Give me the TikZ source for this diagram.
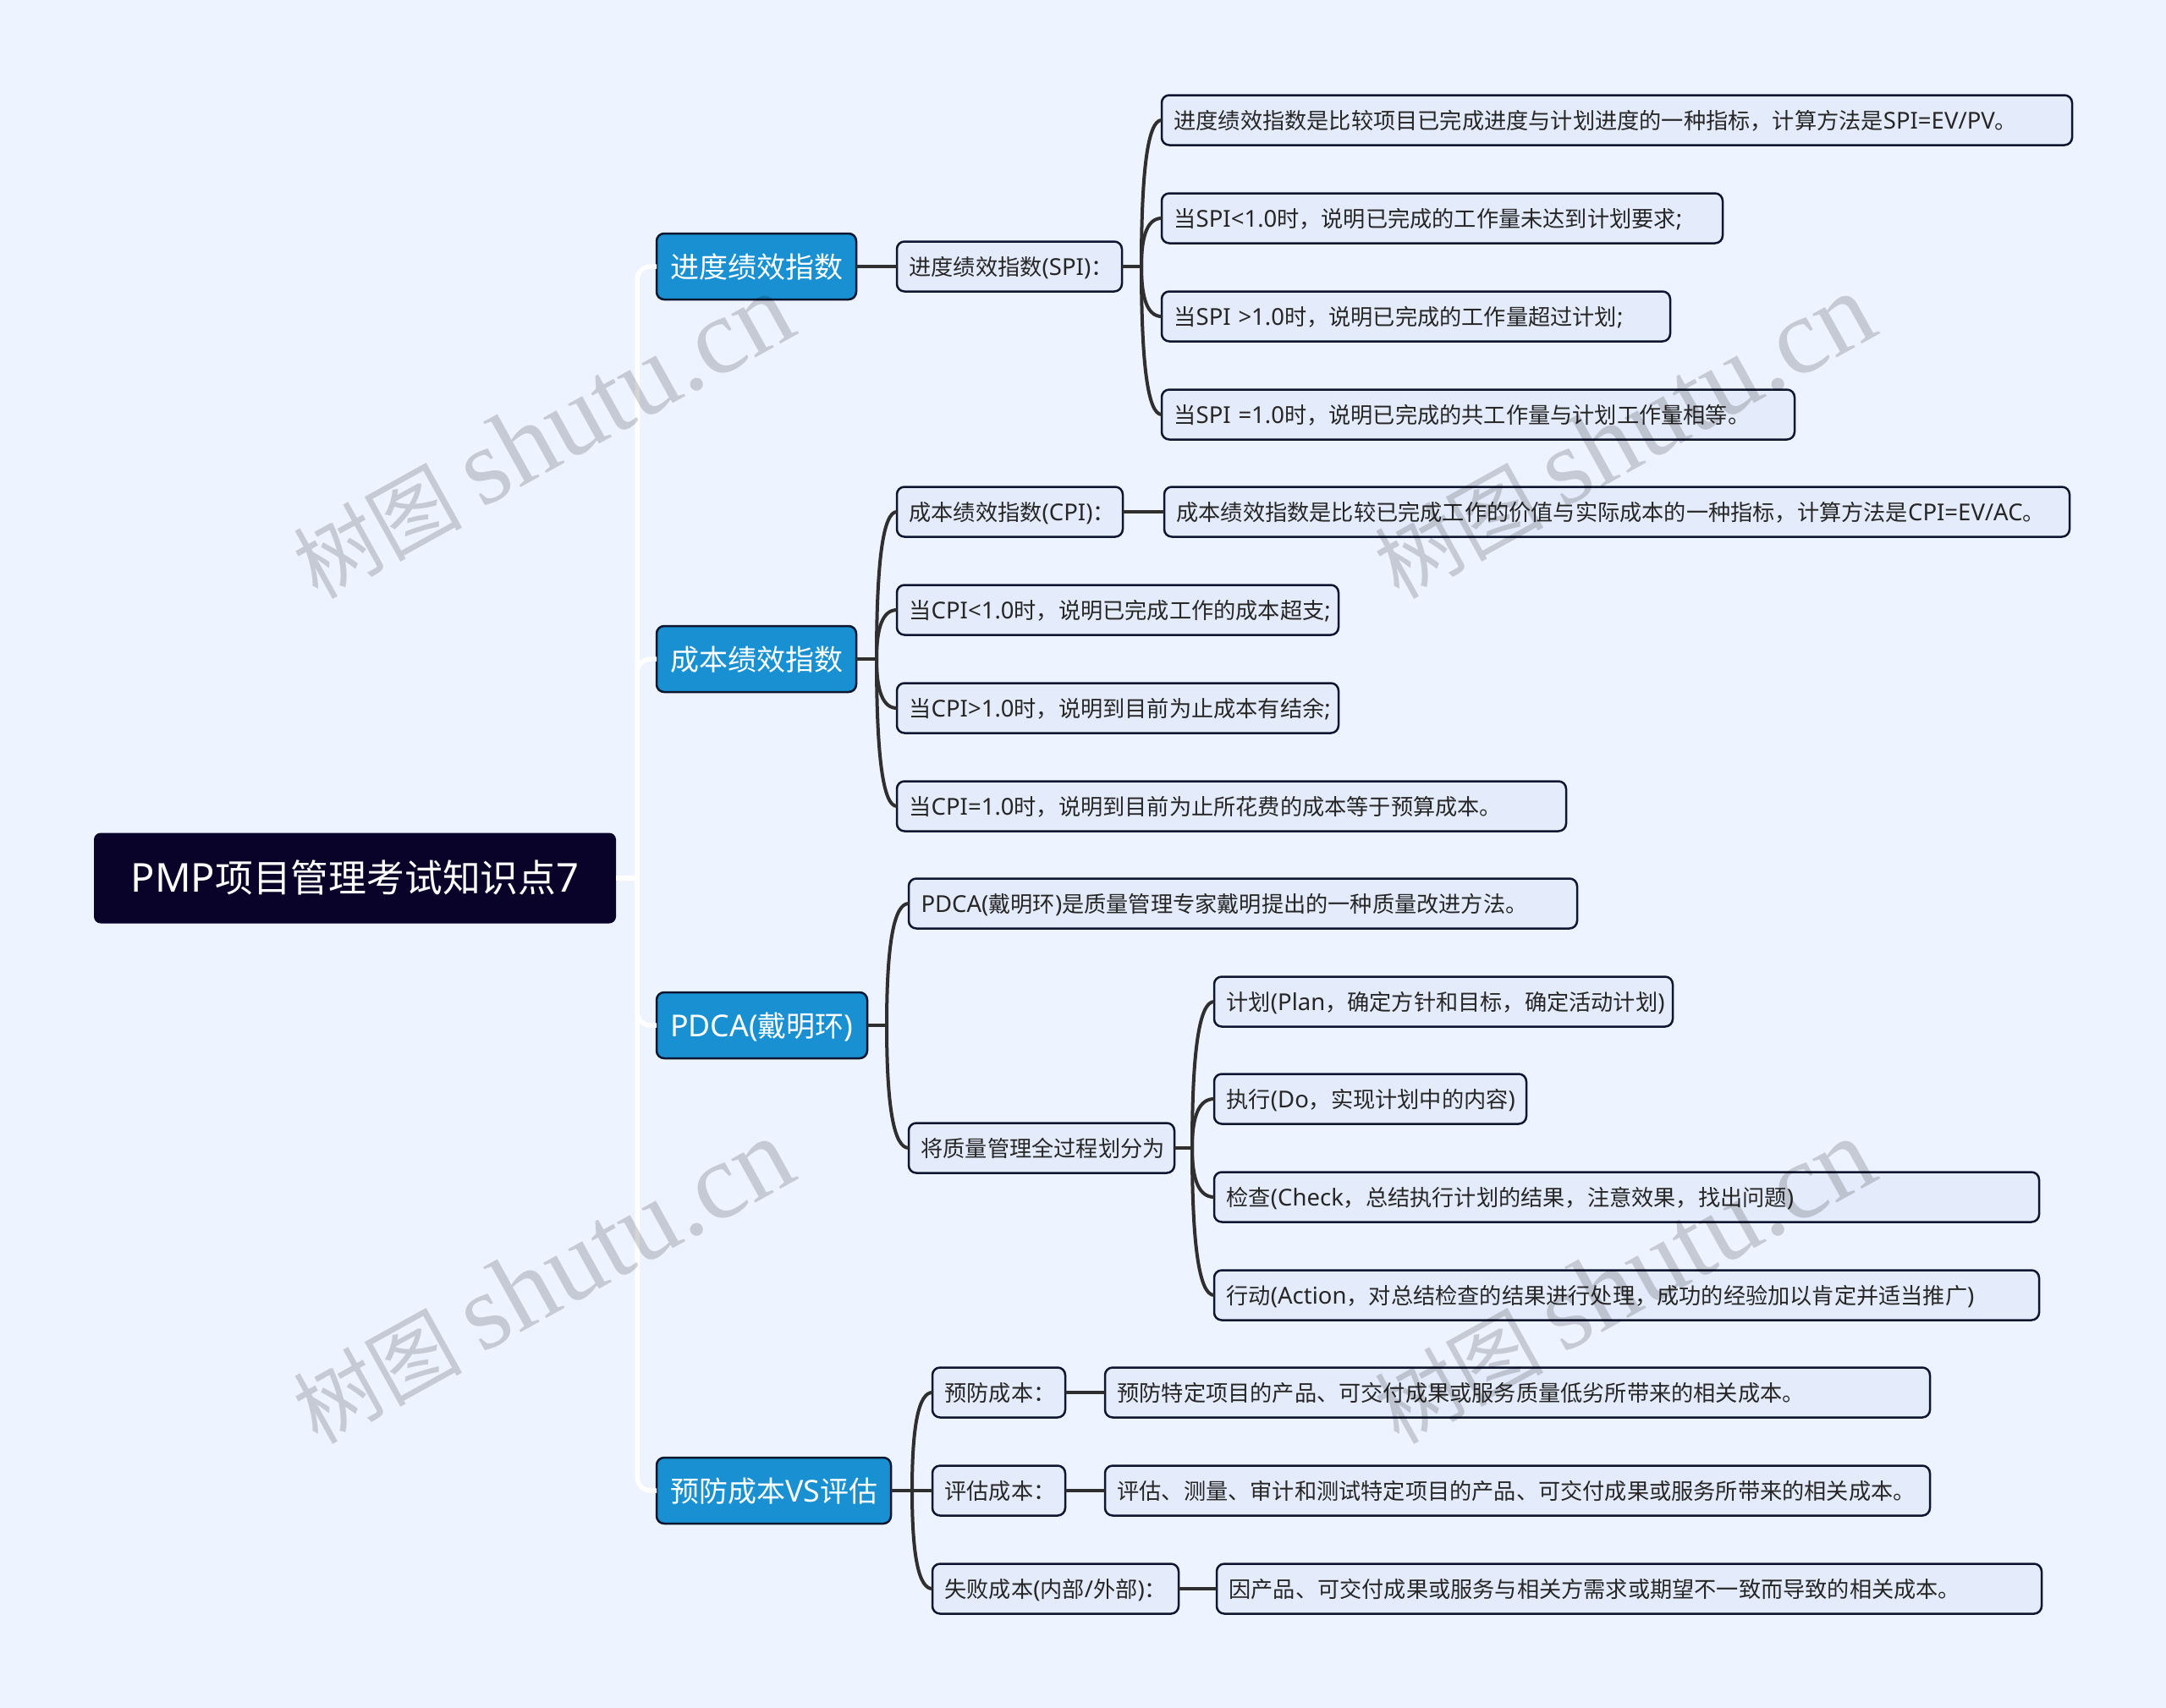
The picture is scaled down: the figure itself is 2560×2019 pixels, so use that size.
\documentclass[tikz,border=0pt]{standalone}
\usepackage{fontspec}
\setmainfont{Noto Sans CJK SC}
\newfontfamily\latfont[Scale=1.05]{Noto Sans}
\newfontfamily\markfont{Liberation Serif}
\newcommand{\lat}[1]{{\latfont #1}}
\newcommand{\marktext}{\fontsize{100}{130}\selectfont 树图\ {\fontsize{128}{130}\markfont shutu.cn}}
\usetikzlibrary{calc}
\definecolor{pagebg}{HTML}{EDF3FF}
\definecolor{rootfill}{HTML}{0A0329}
\definecolor{headfill}{HTML}{1890D2}
\definecolor{leaffill}{HTML}{E4ECFB}
\definecolor{edgedark}{HTML}{0E1630}
\definecolor{linkdark}{HTML}{2F2F2F}
\tikzset{
  rootbox/.style={fill=rootfill,text=white,rounded corners=8pt,outer sep=0pt,
    minimum width=617pt,minimum height=107pt,text height=42pt,text depth=9pt,
    font=\fontsize{44.8}{56}\selectfont},
  headbox/.style={anchor=west,draw=edgedark,fill=headfill,text=white,line width=2.5pt,
    rounded corners=9pt,outer sep=0pt,inner xsep=16pt,align=left,text width=#1,
    minimum height=78pt,text height=30.5pt,text depth=4.5pt,
    font=\fontsize{34}{40}\selectfont},
  leafbox/.style={anchor=west,draw=edgedark,fill=leaffill,text=black!85,line width=2.5pt,
    rounded corners=9pt,outer sep=0pt,inner xsep=13pt,align=left,text width=#1,
    minimum height=59pt,text height=24pt,text depth=4pt,
    execute at begin node=\hspace*{1.5pt},
    font=\fontsize{26.2}{30}\selectfont},
  trunk/.style={draw=white,line width=5.5pt},
  link/.style={draw=linkdark,line width=4pt},
  markbox/.style={rotate=29,text=black,text opacity=0.17}
}
\begin{document}
\begin{tikzpicture}[x=1pt,y=-1pt]

  \fill[pagebg] (0,0) rectangle (2560,2019);
  \useasboundingbox (0,0) rectangle (2560,2019);

  \node[rootbox] (root) at (419.5,1038) {\lat{PMP}项目管理考试知识点\lat{7}};

  %% main branches
  \node[headbox=204pt] (spihead) at (776,315) {进度绩效指数};
  \node[headbox=204pt] (cpihead) at (776,779) {成本绩效指数};
  \node[headbox=217pt] (pdcahead) at (776,1212) {\lat{PDCA(}戴明环\lat{)}};
  \node[headbox=245pt] (costhead) at (776,1762) {预防成本\lat{VS}评估};

  %% SPI
  \node[leafbox=240pt] (spitop) at (1060,315) {进度绩效指数\lat{(SPI)}：};
  \node[leafbox=1050pt] (spia) at (1373,142) {进度绩效指数是比较项目已完成进度与计划进度的一种指标，计算方法是\lat{SPI=EV/PV}。};
  \node[leafbox=637pt] (spib) at (1373,258) {当\lat{SPI<1.0}时，说明已完成的工作量未达到计划要求\lat{;}};
  \node[leafbox=575pt] (spic) at (1373,374) {当\lat{SPI >1.0}时，说明已完成的工作量超过计划\lat{;}};
  \node[leafbox=722pt] (spid) at (1373,490) {当\lat{SPI =1.0}时，说明已完成的共工作量与计划工作量相等。};

  %% CPI
  \node[leafbox=241pt] (cpitop) at (1060,605) {成本绩效指数\lat{(CPI)}：};
  \node[leafbox=1044pt] (cpiz) at (1376,605) {成本绩效指数是比较已完成工作的价值与实际成本的一种指标，计算方法是\lat{CPI=EV/AC}。};
  \node[leafbox=496pt] (cpib) at (1060,721) {当\lat{CPI<1.0}时，说明已完成工作的成本超支\lat{;}};
  \node[leafbox=496pt] (cpic) at (1060,837) {当\lat{CPI>1.0}时，说明到目前为止成本有结余\lat{;}};
  \node[leafbox=765pt] (cpid) at (1060,953) {当\lat{CPI=1.0}时，说明到目前为止所花费的成本等于预算成本。};

  %% PDCA
  \node[leafbox=764pt] (pdcatop) at (1074,1068) {\lat{PDCA(}戴明环\lat{)}是质量管理专家戴明提出的一种质量改进方法。};
  \node[leafbox=288pt] (pdcaplan) at (1074,1357) {将质量管理全过程划分为};
  \node[leafbox=516pt] (stepp) at (1435,1184) {计划\lat{(Plan}，确定方针和目标，确定活动计划\lat{)}};
  \node[leafbox=343pt] (stepd) at (1435,1299) {执行\lat{(Do}，实现计划中的内容\lat{)}};
  \node[leafbox=949pt] (stepc) at (1435,1415) {检查\lat{(Check}，总结执行计划的结果，注意效果，找出问题\lat{)}};
  \node[leafbox=949pt] (stepa) at (1435,1531) {行动\lat{(Action}，对总结检查的结果进行处理，成功的经验加以肯定并适当推广\lat{)}};

  %% prevention, appraisal, failure
  \node[leafbox=131pt] (costa) at (1102,1646) {预防成本：};
  \node[leafbox=131pt] (costb) at (1102,1762) {评估成本：};
  \node[leafbox=265pt] (costc) at (1102,1878) {失败成本\lat{(}内部\lat{/}外部\lat{)}：};
  \node[leafbox=949pt] (costaz) at (1306,1646) {预防特定项目的产品、可交付成果或服务质量低劣所带来的相关成本。};
  \node[leafbox=949pt] (costbz) at (1306,1762) {评估、测量、审计和测试特定项目的产品、可交付成果或服务所带来的相关成本。};
  \node[leafbox=949pt] (costcz) at (1438,1878) {因产品、可交付成果或服务与相关方需求或期望不一致而导致的相关成本。};

  %% white trunk
  \coordinate (rootfork) at (753,1038);
  \draw[trunk] (root.east) -- (rootfork);
  \foreach \head in {spihead,cpihead,pdcahead,costhead}
    \draw[trunk,rounded corners=16pt] (rootfork) |- (\head.west);

  %% dark forks
  \coordinate (spifork) at (1349,315);
  \coordinate (cpifork) at (1036,779);
  \coordinate (pdcafork) at (1048,1212);
  \coordinate (planfork) at (1409,1357);
  \coordinate (costfork) at (1078,1762);

  \draw[link] (spihead.east) -- (spitop.west);
  \draw[link] (cpitop.east) -- (cpiz.west);
  \draw[link] (costa.east) -- (costaz.west);
  \draw[link] (costb.east) -- (costbz.west);
  \draw[link] (costc.east) -- (costcz.west);

  \draw[link] (spitop.east) -- (spifork);
  \draw[link] (cpihead.east) -- (cpifork);
  \draw[link] (pdcahead.east) -- (pdcafork);
  \draw[link] (pdcaplan.east) -- (planfork);
  \draw[link] (costhead.east) -- (costfork);
  \draw[link] (costfork) -- (costb.west);

  \foreach \fork/\kid in {spifork/spia,spifork/spib,spifork/spic,spifork/spid,
      cpifork/cpitop,cpifork/cpib,cpifork/cpic,cpifork/cpid,
      pdcafork/pdcatop,pdcafork/pdcaplan,
      planfork/stepp,planfork/stepd,planfork/stepc,planfork/stepa,
      costfork/costa,costfork/costc}
    \draw[link] (\fork) .. controls ($(\fork)!0.67!(\fork |- \kid.west)$)
      and ($(\kid.west)!0.67!(\fork |- \kid.west)$) .. (\kid.west);

  %% faint marks on top
  \node[markbox] (marka) at (641,516) {\marktext};
  \node[markbox] (markb) at (1919,516) {\marktext};
  \node[markbox] (markc) at (641,1515) {\marktext};
  \node[markbox] (markd) at (1919,1515) {\marktext};

\end{tikzpicture}
\end{document}
